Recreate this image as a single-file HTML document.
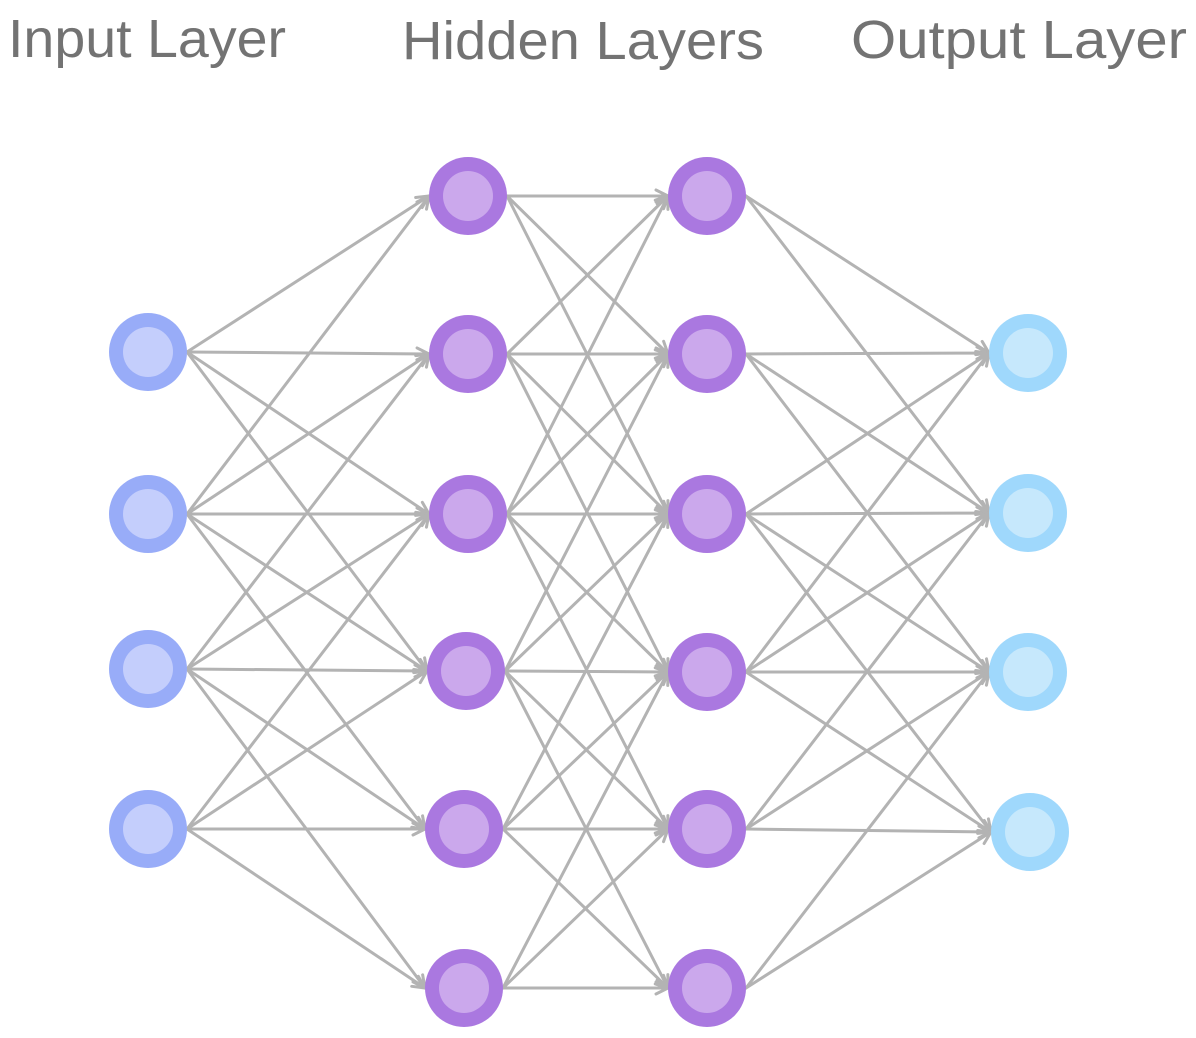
<!DOCTYPE html>
<html><head><meta charset="utf-8"><style>
html,body{margin:0;padding:0;background:#fff;}
svg{display:block;}
</style></head><body>
<svg id="s" width="1196" height="1038" viewBox="0 0 1196 1038" xmlns="http://www.w3.org/2000/svg">
<g font-family="Liberation Sans, sans-serif" font-size="54" fill="#737373">
<text x="8" y="57" textLength="278" lengthAdjust="spacingAndGlyphs">Input Layer</text>
<text x="402" y="59" textLength="362" lengthAdjust="spacingAndGlyphs">Hidden Layers</text>
<text x="851" y="58" textLength="336" lengthAdjust="spacingAndGlyphs">Output Layer</text>
</g>
<g id="lines" stroke="#b3b3b3" stroke-width="3" fill="none" stroke-linecap="round" stroke-linejoin="round"></g>
<g id="nodes"></g>
</svg>
<script>
var NS="http://www.w3.org/2000/svg";
var inp=[[148,352],[148,514],[148,669],[148,829]];
var h1=[[468,196],[468,354],[468,514],[466,671],[464,829],[464,988]];
var h2=[[707,196],[707,354],[707,514],[707,672],[707,829],[707,988]];
var out=[[1028,353],[1028,513],[1028,672],[1030,832]];
var L=document.getElementById('lines'),N=document.getElementById('nodes');
function line(a,b){
  var x1=a[0]+39,y1=a[1],x2=b[0]-39,y2=b[1];
  var p=document.createElementNS(NS,'path');
  var dx=x2-x1,dy=y2-y1,len=Math.sqrt(dx*dx+dy*dy),ux=dx/len,uy=dy/len;
  var hl=12,hw=6;
  var bx=x2-ux*hl,by=y2-uy*hl;
  var d='M'+x1+' '+y1+'L'+x2+' '+y2+'M'+(bx-uy*hw)+' '+(by+ux*hw)+'L'+x2+' '+y2+'L'+(bx+uy*hw)+' '+(by-ux*hw);
  p.setAttribute('d',d);L.appendChild(p);
}
for(var i=0;i<4;i++)for(var j=0;j<6;j++)if(j>=i-1&&j<=i+3)line(inp[i],h1[j]);
for(var i=0;i<6;i++)for(var j=0;j<6;j++)if(Math.abs(i-j)<=2)line(h1[i],h2[j]);
for(var j=0;j<6;j++)for(var i=0;i<4;i++)if(i>=j-3&&i<=j+1)line(h2[j],out[i]);
function node(c,o,inn){
  var a=document.createElementNS(NS,'circle');a.setAttribute('cx',c[0]);a.setAttribute('cy',c[1]);a.setAttribute('r',39);a.setAttribute('fill',o);N.appendChild(a);
  var b=document.createElementNS(NS,'circle');b.setAttribute('cx',c[0]);b.setAttribute('cy',c[1]);b.setAttribute('r',25);b.setAttribute('fill',inn);N.appendChild(b);
}
inp.forEach(function(c){node(c,'#98acf8','#c4cefc')});
h1.forEach(function(c){node(c,'#aa78e0','#cba8ec')});
h2.forEach(function(c){node(c,'#aa78e0','#cba8ec')});
out.forEach(function(c){node(c,'#9fd8fc','#c6e8fc')});
</script>
</body></html>
